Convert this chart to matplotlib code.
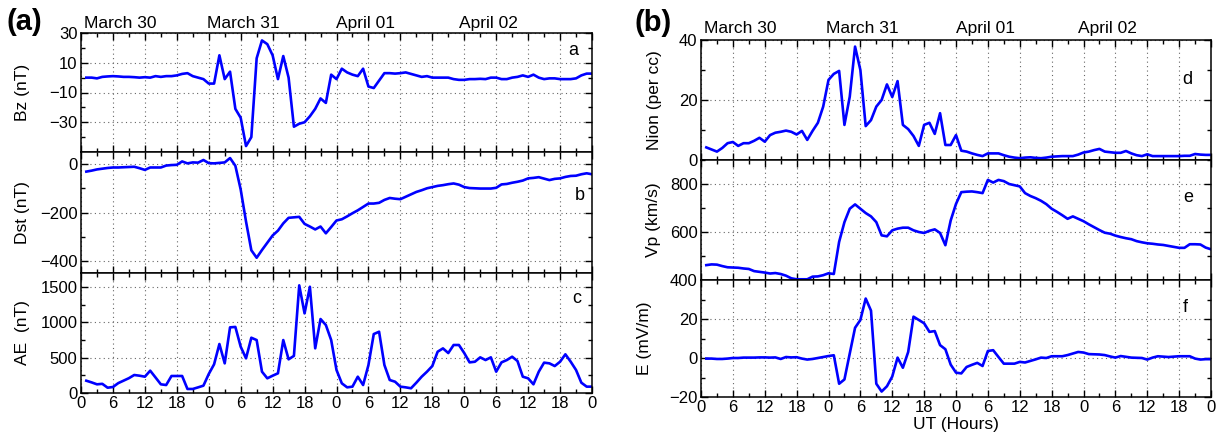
import matplotlib

matplotlib.use('Agg')

import matplotlib.pyplot as plt  # noqa: E402
import numpy as np               # noqa: E402

plt.rcParams['font.family'] = ['Liberation Sans', 'DejaVu Sans']

# Hourly samples, hour 1 .. 96 (30 March 00 UT -> 03 April 00 UT)
hours = np.arange(1, 97)

bz = [0, 0, -0.5, 0.5, 0.8, 1, 0.8, 0.5, 0.5, 0.3, 0, 0.3, 0, 1, 0.5, 1,
      1, 1.5, 2.5, 3, 1, 0, -1, -4, -4, 15, -1, 4, -21, -27, -46, -40,
      13, 25, 22.5, 15, -1, 14.5, 0, -33, -31, -30, -26, -21, -14, -17, 2, -1,
      6, 3.5, 2, 1, 6, -6, -7, -2, 3, 3, 2.7, 3, 3.5, 2.5, 1.5, 0.5,
      1, 0, 0, 0, 0, -1, -1.5, -1.5, -1, -1, -0.8, -1, 0, 0, -1, -1,
      0, 0.5, 1.5, 0.5, 2, 0, -1, -0.5, -0.5, -1, -1, -1, -0.5, 1.5, 2.7, 2.7]

dst = [-31, -27, -22, -19, -16, -14, -14, -13, -12, -11, -17, -24, -14, -14, -14, -6,
       -4, -3, 11, 3, 7, 6, 17, 4, 3, 5, 7, 25, -7, -105, -237, -356,
       -387, -355, -325, -295, -275, -245, -222, -220, -218, -247, -258, -270, -258, -286,
       -260, -233, -228, -216, -203, -191, -177, -163, -163, -160, -148, -140, -143, -145,
       -135, -125, -115, -108, -100, -95, -90, -87, -83, -80, -85, -95, -99, -100,
       -101, -101, -101, -98, -84, -82, -77, -73, -68, -59, -57, -54, -60, -66,
       -61, -59, -53, -49, -48, -42, -38, -42]

ae = [174, 150, 123, 130, 75, 85, 140, 175, 210, 255, 245, 231, 316, 220, 123, 113,
      241, 241, 241, 57, 57, 80, 104, 269, 406, 694, 420, 930, 936, 656, 491, 783,
      750, 302, 208, 245, 279, 750, 477, 526, 1525, 1128, 1505, 633, 1048, 963, 750, 326,
      137, 80, 90, 231, 113, 396, 835, 868, 396, 184, 160, 90, 80, 67, 146, 231,
      302, 382, 585, 632, 566, 680, 680, 566, 434, 443, 505, 467, 505, 302, 434, 467,
      514, 453, 231, 208, 123, 302, 430, 420, 382, 443, 548, 443, 326, 146, 90, 90]

nion = [4.2, 3.5, 2.8, 4, 5.6, 6, 4.7, 5.6, 5.6, 6.4, 7.4, 6.1, 8.3, 9.1, 9.4, 9.8,
        9.4, 8.5, 9.7, 6.7, 9.7, 12.4, 17.8, 26.7, 28.7, 29.7, 11.7, 21.1, 37.8, 30, 11.3, 13.3,
        17.8, 20, 25.2, 21, 26.3, 11.7, 10.3, 8, 4.7, 11.7, 12.4, 8.7, 15.6, 5, 5, 8.3,
        3.1, 2.8, 2.2, 1.7, 1.3, 2.2, 2.2, 2.2, 1.6, 1.1, 0.8, 0.6, 0.8, 0.9, 0.7, 0.6,
        0.8, 1.1, 1.2, 1.3, 1.3, 1.3, 1.8, 2.5, 2.8, 3.3, 3.7, 2.8, 2.6, 2.4, 2.4, 3,
        2.2, 1.6, 1.3, 1.9, 1.3, 1.3, 1.3, 1.3, 1.3, 1.3, 1.4, 1.4, 2, 1.8, 1.7, 1.7]

vp = [462, 465, 464, 458, 453, 452, 451, 448, 446, 437, 434, 431, 427, 429, 425, 418,
      407, 403, 403, 403, 414, 415, 420, 428, 425, 559, 641, 697, 715, 697, 679, 665,
      641, 586, 582, 607, 614, 618, 618, 607, 600, 596, 605, 611, 596, 545, 648, 717,
      766, 768, 769, 766, 762, 817, 806, 817, 812, 800, 795, 790, 762, 750, 741, 730,
      716, 697, 684, 670, 655, 665, 655, 645, 632, 620, 608, 597, 593, 585, 579, 574,
      570, 562, 557, 553, 551, 548, 546, 542, 538, 534, 534, 549, 549, 548, 535, 528]

efield = [-0.3, -0.3, -0.5, -0.5, -0.3, 0, 0, 0.2, 0.2, 0.2, 0.3, 0.3, 0.2, 0.3, -0.5, 0.5,
          0.3, 0.4, -0.3, -0.8, -0.5, 0, 0.5, 1, 1.4, -13.2, -11, 2.3, 15.5, 19.5, 30.5, 24.3,
          -13.2, -17.2, -14.5, -9.5, 0.2, -5, 3.1, 21.2, 19.5, 17.8, 13.4, 13.8, 6.6, 4.5, -3.4, -7.5,
          -7.9, -4.6, -3.5, -2.5, -4.1, 3.6, 4, 0.5, -2.9, -2.9, -2.9, -2, -2.3, -1.5, -0.7, 0.2,
          0, 0.9, 0.9, 0.9, 1.5, 2.3, 3.1, 2.8, 2, 1.9, 1.8, 1.5, 0.8, 0.2, 1, 0.6,
          0.2, 0.1, 0, -0.8, 0.2, 0.9, 0.7, 0.5, 0.7, 0.9, 0.9, 0.9, -0.3, -0.8, -0.6, -0.6]

day_labels = ['March 30', 'March 31', 'April 01', 'April 02']
day_label_hours = [0.6, 23.6, 48.0, 71.0]

LINE_COLOR = '#0000ff'
W, H = 1223, 442


def px_axes(x0, x1, y0, y1):
    """Axes rectangle given in pixel coords (origin top-left)."""
    return [x0 / W, 1 - y1 / H, (x1 - x0) / W, (y1 - y0) / H]


# name, series, ylabel, ylim, major yticks, minor yticks, letter pos, rect, ylabel x
panels = [
    dict(y=bz, ylabel='Bz (nT)', ylim=(-50, 30), major=[-30, -10, 10, 30],
         minor=[-40, -20, 0, 20], letter='a', lpos=(0.953, 0.815),
         rect=px_axes(81, 592, 33, 152), labx=-0.100, bottom=False),
    dict(y=dst, ylabel='Dst (nT)', ylim=(-450, 50), major=[-400, -200, 0],
         minor=[-300, -100], letter='b', lpos=(0.967, 0.603),
         rect=px_axes(81, 592, 152, 273), labx=-0.100, bottom=False),
    dict(y=ae, ylabel='AE  (nT)', ylim=(0, 1700), major=[0, 500, 1000, 1500],
         minor=[250, 750, 1250], letter='c', lpos=(0.961, 0.75),
         rect=px_axes(81, 592, 273, 393), labx=-0.100, bottom=True),
    dict(y=nion, ylabel='Nion (per cc)', ylim=(0, 40), major=[0, 20, 40],
         minor=[10, 30], letter='d', lpos=(0.943, 0.633),
         rect=px_axes(701, 1211, 40, 160), labx=-0.077, bottom=False),
    dict(y=vp, ylabel='Vp (km/s)', ylim=(400, 900), major=[400, 600, 800],
         minor=[500, 700, 900], letter='e', lpos=(0.945, 0.653),
         rect=px_axes(701, 1211, 160, 280), labx=-0.079, bottom=False),
    dict(y=efield, ylabel='E (mV/m)', ylim=(-20, 40), major=[-20, 0, 20],
         minor=[-10, 10, 30], letter='f', lpos=(0.945, 0.729),
         rect=px_axes(701, 1211, 280, 397), labx=-0.096, bottom=True),
]


def style_axis(ax, p):
    ax.set_xlim(0, 96)
    ax.set_ylim(*p['ylim'])
    xt = np.arange(0, 97, 6)
    ax.set_xticks(xt)
    ax.set_xticks(np.arange(0, 97, 3), minor=True)
    ax.set_yticks(p['major'])
    ax.set_yticks(p['minor'], minor=True)
    ax.tick_params(which='both', direction='in', top=True, right=True,
                   width=1.0, labelsize=12)
    ax.tick_params(which='major', length=5)
    ax.tick_params(which='minor', length=3)
    ax.tick_params(axis='y', pad=2.5)
    ax.tick_params(axis='x', pad=2.5)
    ax.grid(True, which='major', linestyle=(0, (1, 3)), color='0.4',
            linewidth=0.8)
    for s in ax.spines.values():
        s.set_linewidth(1.1)
    if p['bottom']:
        ax.set_xticklabels([str(int(t) % 24) for t in xt])
    else:
        ax.tick_params(labelbottom=False)
    ax.set_ylabel(p['ylabel'], fontsize=12.5)
    ax.yaxis.set_label_coords(p['labx'], 0.5)
    ax.text(p['lpos'][0], p['lpos'][1], p['letter'], transform=ax.transAxes,
            fontsize=13, ha='left', va='baseline')


fig = plt.figure(figsize=(W / 100, H / 100), dpi=100)
axes = []
for p in panels:
    ax = fig.add_axes(p['rect'])
    ax.plot(hours, p['y'], color=LINE_COLOR, linewidth=1.9)
    style_axis(ax, p)
    axes.append(ax)

for top_ax, off in ((axes[0], 3.8), (axes[3], 4.8)):
    for lab, h in zip(day_labels, day_label_hours):
        top_ax.annotate(lab, xy=(h, 1), xycoords=('data', 'axes fraction'),
                        xytext=(0, off), textcoords='offset points',
                        ha='left', va='baseline', fontsize=12.5)

axes[5].set_xlabel('UT (Hours)', fontsize=12.5, labelpad=1)

fig.text(7 / W, 1 - 30 / H, '(a)', fontsize=21, fontweight='bold',
         ha='left', va='baseline')
fig.text(635 / W, 1 - 31 / H, '(b)', fontsize=21, fontweight='bold',
         ha='left', va='baseline')

fig.savefig('out.png', dpi=100)
plt.close(fig)
